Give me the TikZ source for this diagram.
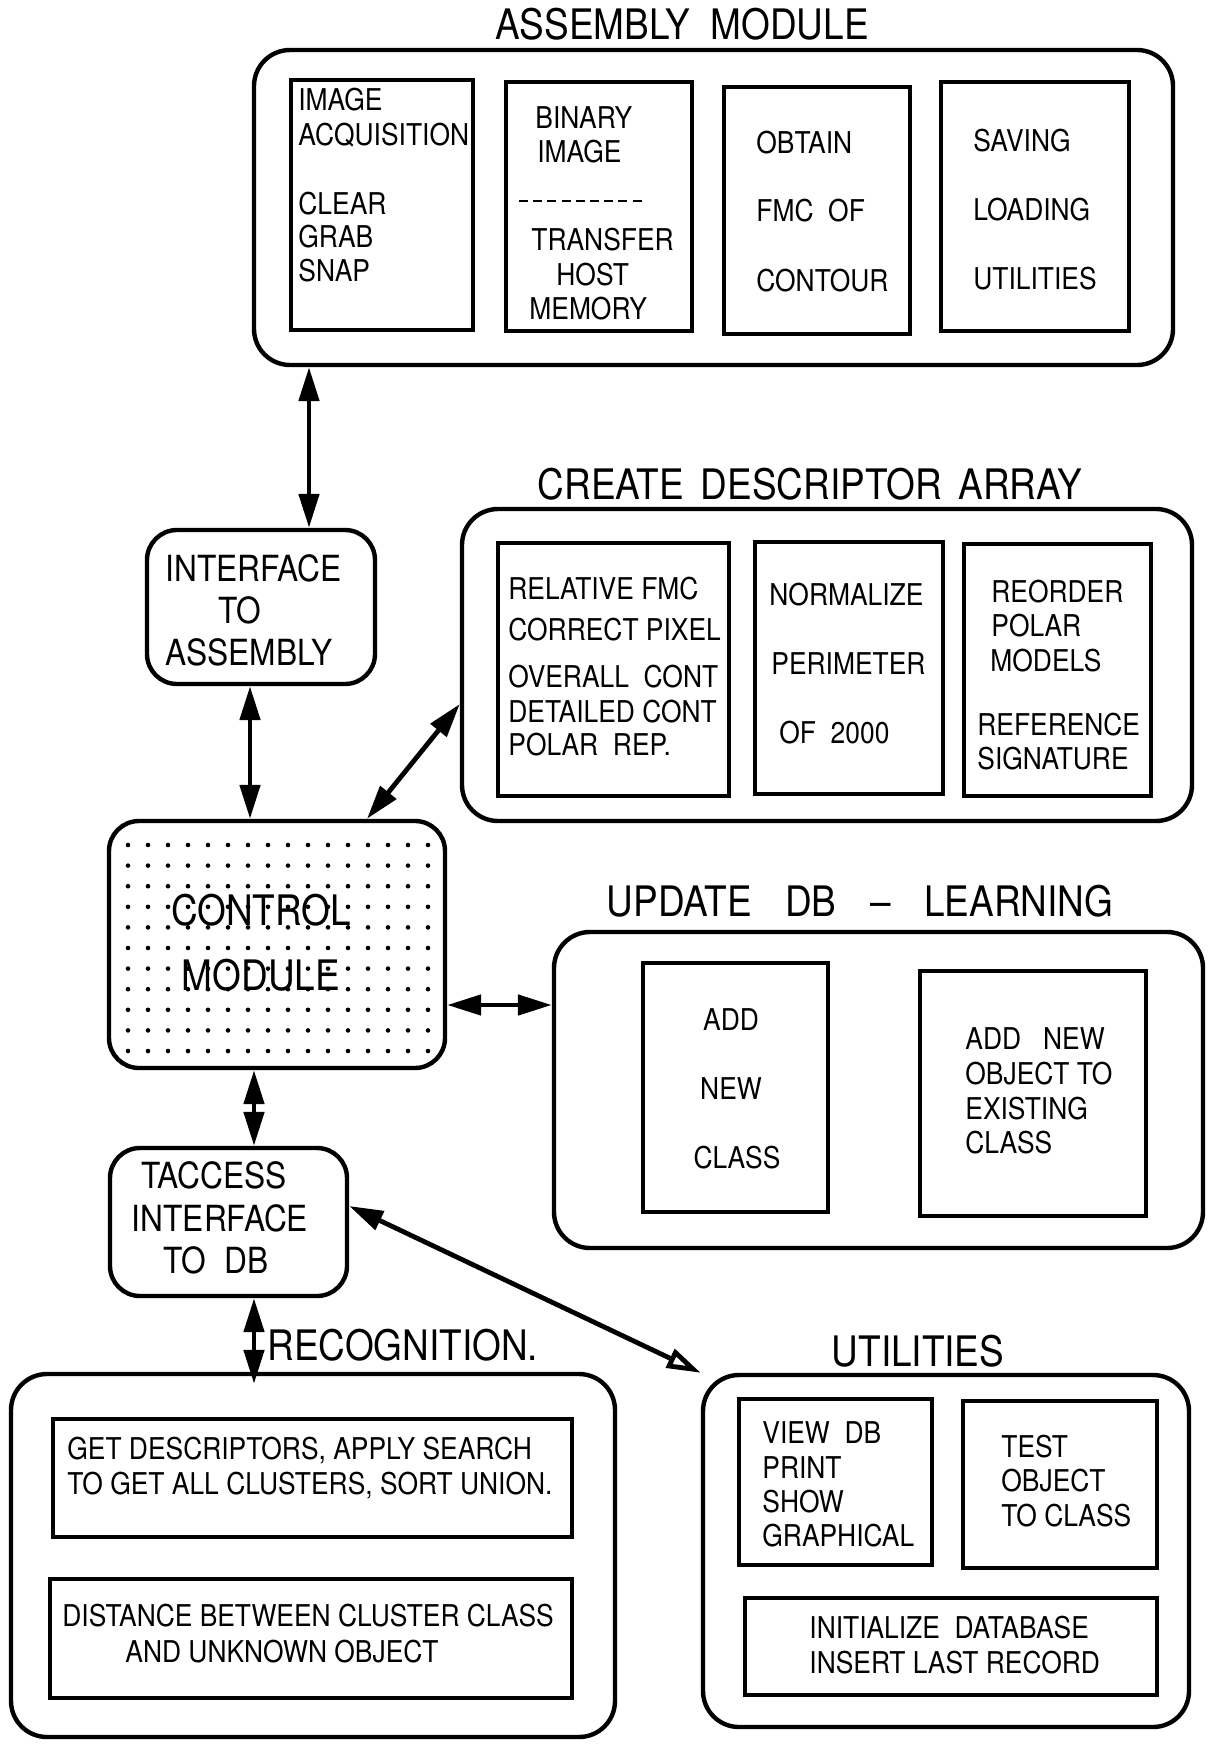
\documentclass[tikz,border=0pt]{standalone}
\usepackage{fontspec}
\newfontfamily\plot[FakeStretch=0.88]{TeX Gyre Heros}
\usetikzlibrary{arrows.meta,fit}
\tikzset{
  outer/.style={draw, line width=2.2pt, rounded corners=18pt, inner sep=0pt},
  rbox/.style={draw, line width=2.2pt, rounded corners=15pt, inner sep=0pt},
  inner/.style={draw, line width=2pt, inner sep=0pt},
  bt/.style={font=\plot\fontsize{15}{18}\selectfont, text height=10.8pt, text depth=0pt, inner sep=0pt, anchor=west},
  mt/.style={font=\plot\fontsize{18}{21}\selectfont, text height=12.9pt, text depth=0pt, inner sep=0pt},
  ct/.style={font=\plot\fontsize{21}{24}\selectfont, text height=15.1pt, text depth=0pt, inner sep=0pt},
  tt/.style={font=\plot\fontsize{21}{24}\selectfont, text height=15.1pt, text depth=0pt, inner sep=0pt},
  dbl/.style={line width=2.4pt, <->, >={Triangle[length=17pt,width=10pt]}},
  dblopen/.style={line width=2.4pt, {Triangle[length=17pt,width=10pt]}-{Triangle[open,length=17pt,width=10pt]}},
}
\begin{document}
\begin{tikzpicture}[x=0.5pt,y=-0.5pt]
\fill[white] (0,0) rectangle (1209,1744);
\useasboundingbox (0,0) rectangle (1209,1744);

% ---------------- ASSEMBLY MODULE
\node[tt] (tasm) at (682,24) {ASSEMBLY\ \ MODULE};
\node[outer, fit={(254,50) (1173,365)}] (asm) {};
\node[inner, fit={(291,80) (473,330)}] (asm1) {};
\node[inner, fit={(506,82) (692,331)}] (asm2) {};
\node[inner, fit={(724,87) (910,334)}] (asm3) {};
\node[inner, fit={(941,82) (1129,331)}] (asm4) {};
\node[bt] (a1a) at (298,100) {IMAGE};
\node[bt] (a1b) at (298,135) {ACQUISITION};
\node[bt] (a1c) at (298,204) {CLEAR};
\node[bt] (a1d) at (298,237) {GRAB};
\node[bt] (a1e) at (298,271) {SNAP};
\node[bt] (a2a) at (535,118) {BINARY};
\node[bt] (a2b) at (537,152) {IMAGE};
\draw[line width=1.2pt, dash pattern=on 4.5pt off 2.6pt] (519,201) -- (642,201);
\node[bt] (a2c) at (531,240) {TRANSFER};
\node[bt] (a2d) at (556,275) {HOST};
\node[bt] (a2e) at (529,309) {MEMORY};
\node[bt] (a3a) at (756,143) {OBTAIN};
\node[bt] (a3b) at (756,211) {FMC\ \ OF};
\node[bt] (a3c) at (756,281) {CONTOUR};
\node[bt] (a4a) at (973,141) {SAVING};
\node[bt] (a4b) at (973,210) {LOADING};
\node[bt] (a4c) at (973,279) {UTILITIES};

% ---------------- INTERFACE TO ASSEMBLY
\node[rbox, fit={(147,530) (375,684)}] (ifa) {};
\node[mt, anchor=west] (ifa1) at (165,569) {INTERFACE};
\node[mt, anchor=west] (ifa2) at (218,611) {TO};
\node[mt, anchor=west] (ifa3) at (165,653) {ASSEMBLY};

% ---------------- CREATE DESCRIPTOR ARRAY
\node[tt] (tcda) at (810,484) {CREATE\hspace{0.4em}DESCRIPTOR\hspace{0.4em}ARRAY};
\node[outer, fit={(462,509) (1192,821)}] (cda) {};
\node[inner, fit={(498,543) (729,796)}] (cda1) {};
\node[inner, fit={(755,542) (943,794)}] (cda2) {};
\node[inner, fit={(964,544) (1151,796)}] (cda3) {};
\node[bt] (c1a) at (508,589) {RELATIVE FMC};
\node[bt] (c1b) at (508,630) {CORRECT PIXEL};
\node[bt] (c1c) at (508,677) {OVERALL\ \ CONT};
\node[bt] (c1d) at (508,712) {DETAILED CONT};
\node[bt] (c1e) at (508,745) {POLAR\ \ REP.};
\node[bt] (c2a) at (769,595) {NORMALIZE};
\node[bt] (c2b) at (771,664) {PERIMETER};
\node[bt] (c2c) at (779,733) {OF\ \ 2000};
\node[bt] (c3a) at (991,592) {REORDER};
\node[bt] (c3b) at (991,626) {POLAR};
\node[bt] (c3c) at (990,661) {MODELS};
\node[bt] (c3d) at (977,725) {REFERENCE};
\node[bt] (c3e) at (977,759) {SIGNATURE};

% ---------------- CONTROL MODULE
\node[rbox, fit={(109,821) (445,1068)}] (ctl) {};
\foreach \i in {0,...,15}{
  \foreach \j in {0,...,10}{
    \fill (128+20*\i, 845+20.6*\j) circle[radius=2.3];
  }
}
\node[ct] (ctl1) at (261,910) {CONTROL};
\node[ct] (ctl2) at (261,975) {MODULE};

% ---------------- UPDATE DB - LEARNING
\node[tt] (tupd) at (860,901) {UPDATE\hspace{0.8em}DB\hspace{0.8em}\textendash\hspace{0.8em}LEARNING};
\node[outer, fit={(554,932) (1203,1248)}] (upd) {};
\node[inner, fit={(643,963) (828,1212)}] (upd1) {};
\node[inner, fit={(920,971) (1146,1216)}] (upd2) {};
\node[bt, anchor=center] (u1a) at (731,1020) {ADD};
\node[bt, anchor=center] (u1b) at (731,1089) {NEW};
\node[bt, anchor=center] (u1c) at (737,1158) {CLASS};
\node[bt] (u2a) at (965,1039) {ADD\ \ \ NEW};
\node[bt] (u2b) at (965,1074) {OBJECT TO};
\node[bt] (u2c) at (965,1109) {EXISTING};
\node[bt] (u2d) at (965,1143) {CLASS};

% ---------------- TACCESS
\node[rbox, fit={(110,1148) (347,1296)}] (tac) {};
\node[mt] (tac1) at (214,1176) {TACCESS};
\node[mt] (tac2) at (220,1219) {INTERFACE};
\node[mt] (tac3) at (216,1261) {TO\ \ DB};

% ---------------- RECOGNITION
\node[tt, anchor=west] (trec) at (267,1345) {RECOGNITION.};
\node[outer, fit={(11,1374) (615,1737)}] (rec) {};
\node[inner, fit={(53,1419) (572,1537)}] (rec1) {};
\node[inner, fit={(50,1579) (572,1698)}] (rec2) {};
\node[bt] (r1a) at (67,1449) {GET DESCRIPTORS, APPLY SEARCH};
\node[bt] (r1b) at (67,1484) {TO GET ALL CLUSTERS, SORT UNION.};
\node[bt] (r2a) at (62,1616) {DISTANCE BETWEEN CLUSTER CLASS};
\node[bt] (r2b) at (125,1652) {AND UNKNOWN OBJECT};

% ---------------- UTILITIES
\node[tt] (tutl) at (918,1351) {UTILITIES};
\node[outer, fit={(703,1375) (1189,1727)}] (utl) {};
\node[inner, fit={(739,1399) (932,1565)}] (utl1) {};
\node[inner, fit={(963,1401) (1157,1568)}] (utl2) {};
\node[inner, fit={(745,1598) (1157,1695)}] (utl3) {};
\node[bt] (t1a) at (762,1433) {VIEW\ \ DB};
\node[bt] (t1b) at (762,1468) {PRINT};
\node[bt] (t1c) at (762,1502) {SHOW};
\node[bt] (t1d) at (762,1536) {GRAPHICAL};
\node[bt] (t2a) at (1001,1447) {TEST};
\node[bt] (t2b) at (1001,1481) {OBJECT};
\node[bt] (t2c) at (1001,1516) {TO CLASS};
\node[bt] (t3a) at (809,1628) {INITIALIZE\ \ DATABASE};
\node[bt] (t3b) at (809,1663) {INSERT LAST RECORD};

% ---------------- CONNECTORS
\coordinate (x1) at (309,0);
\coordinate (x2) at (250,0);
\coordinate (p3a) at (367,0);
\coordinate (p3b) at (0,704);
\coordinate (y4) at (0,1005);
\coordinate (x5) at (254,0);
\coordinate (y6) at (0,1206);
\draw[dbl] (asm.south -| x1) -- (ifa.north -| x1);
\draw[dbl] (ifa.south -| x2) -- (ctl.north -| x2);
\draw[dbl] (ctl.north -| p3a) -- (cda.west |- p3b);
\draw[dbl] (ctl.east |- y4) -- (upd.west |- y4);
\draw[dbl] (ctl.south -| x5) -- (tac.north -| x5);
\draw[dblopen] (tac.east |- y6) -- (utl.north west);
\draw[dbl, shorten >=-6pt] (tac.south -| x5) -- (rec.north -| x5);
\end{tikzpicture}
\end{document}
